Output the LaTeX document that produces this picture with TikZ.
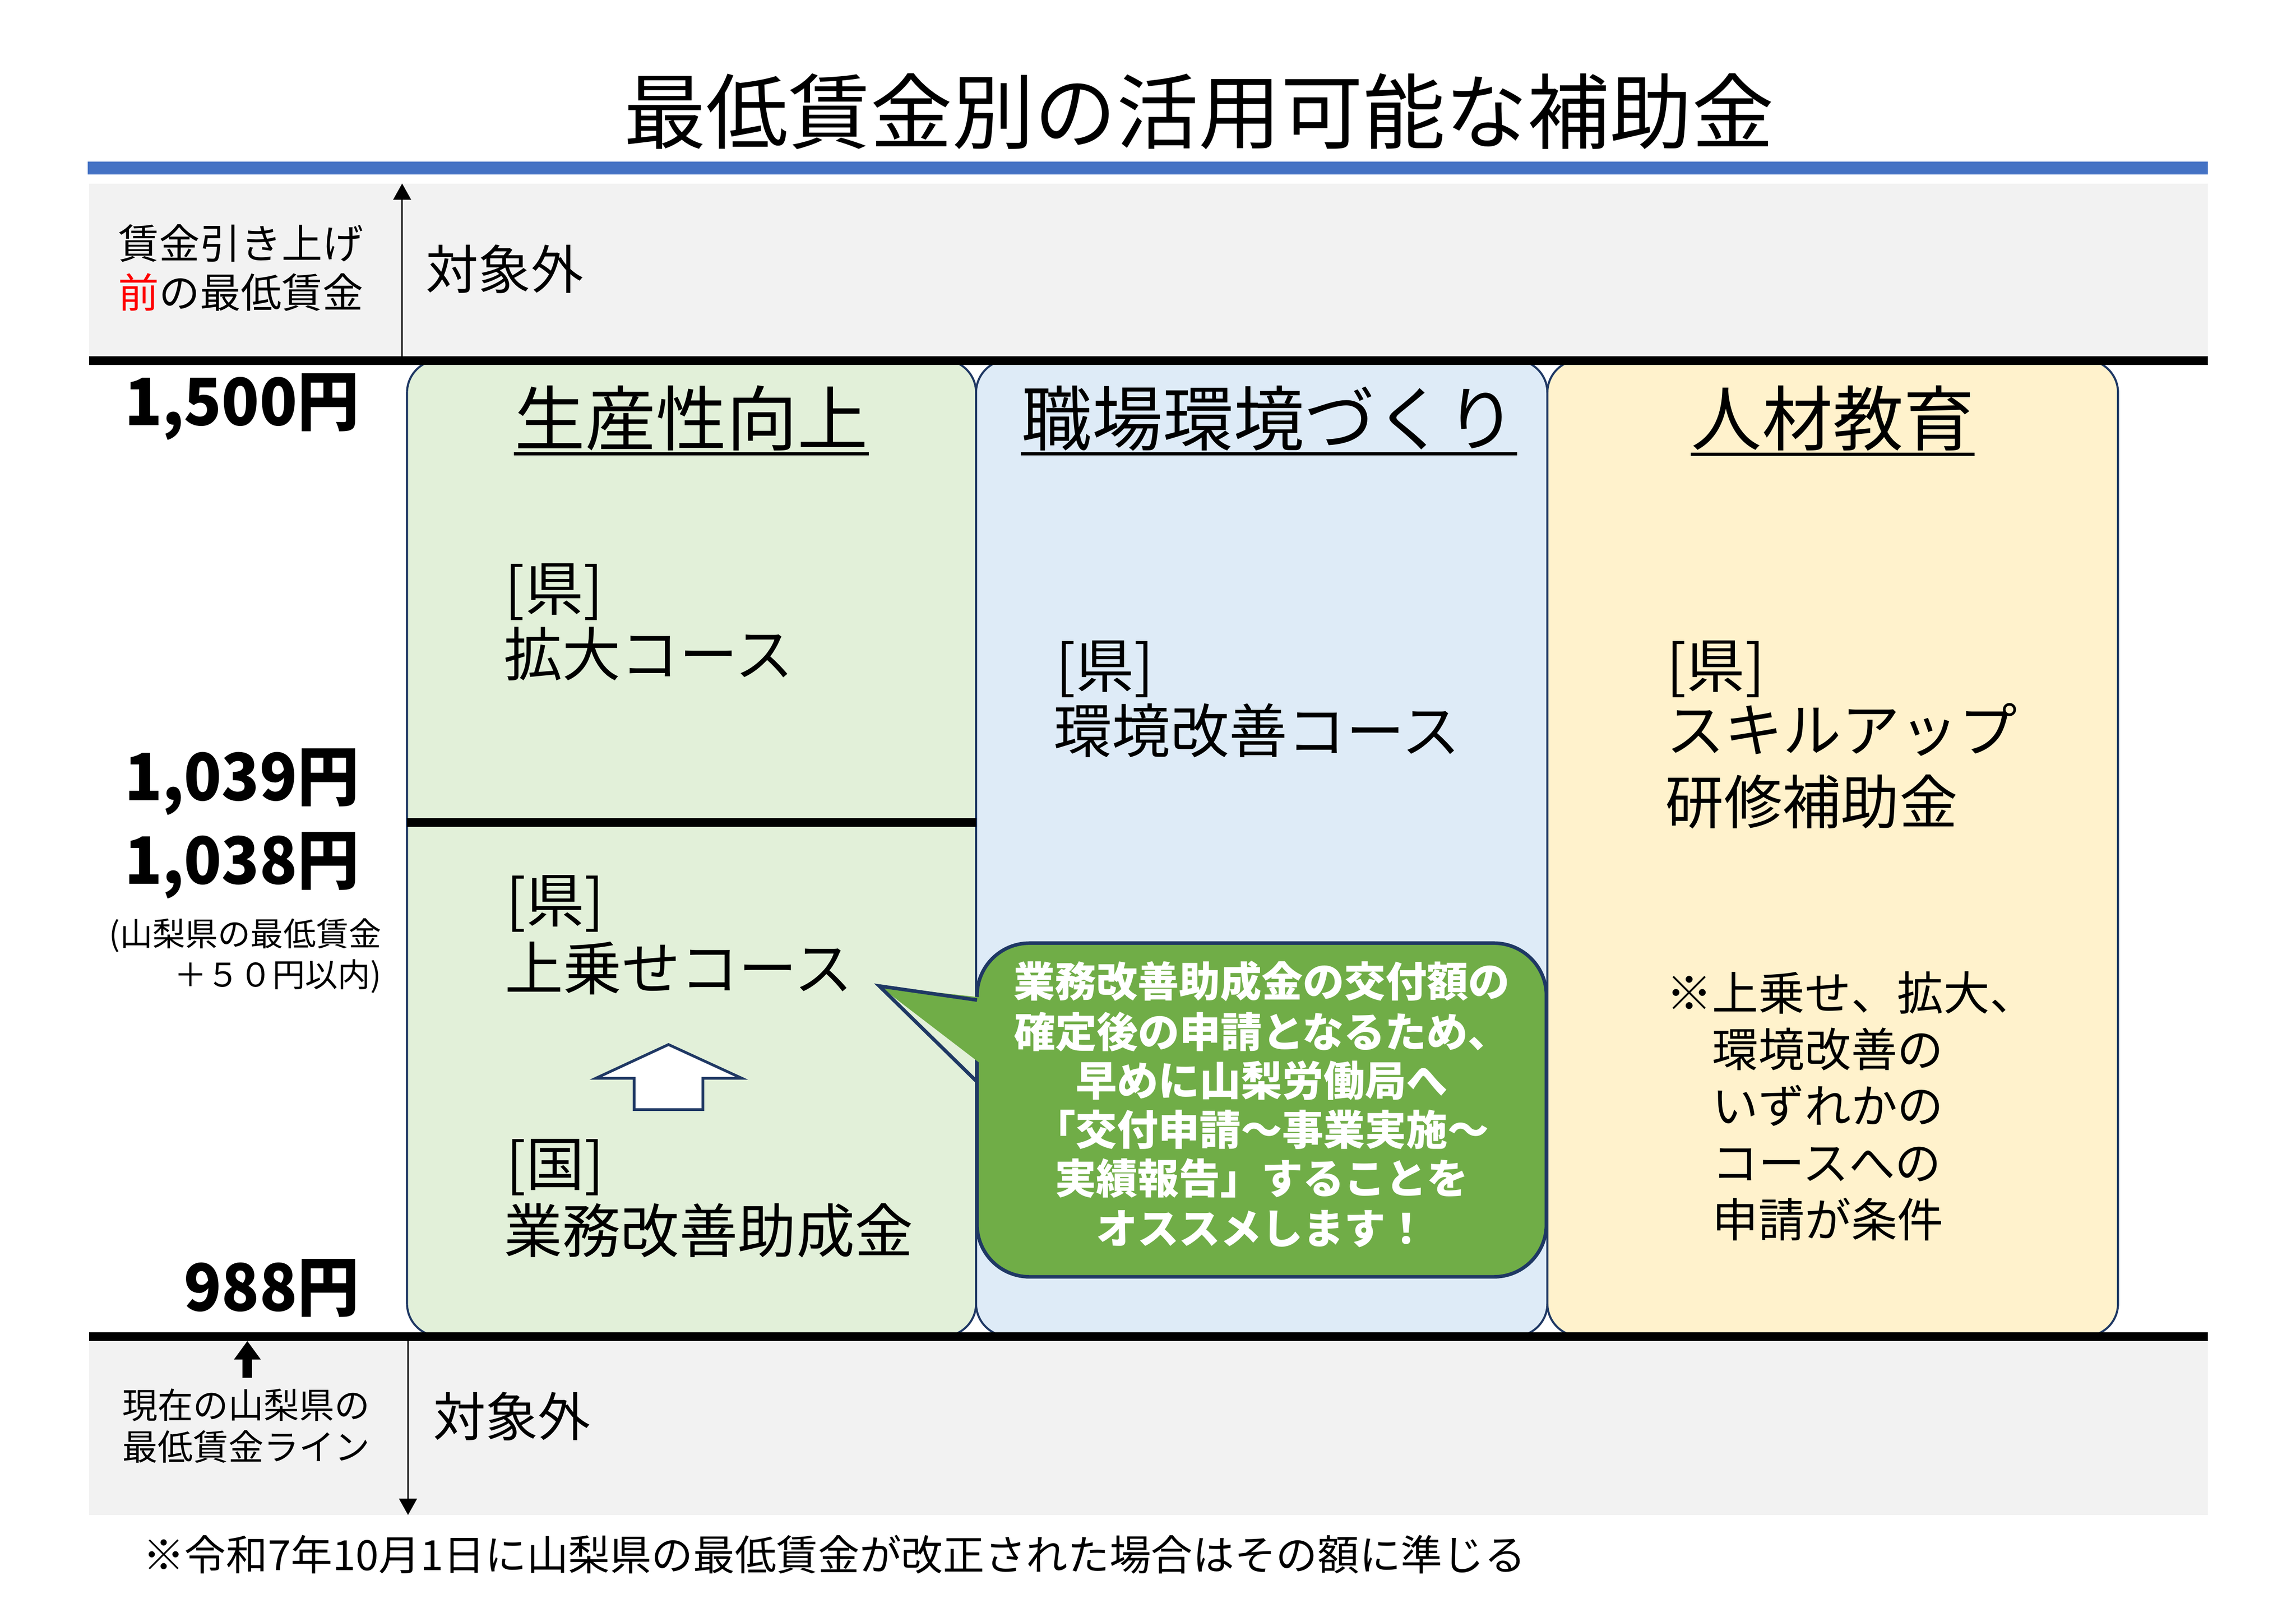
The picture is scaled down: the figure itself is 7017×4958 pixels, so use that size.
\documentclass[tikz,border=0pt]{standalone}
\usepackage{fontspec}
\usepackage{graphicx}
\setmainfont{Noto Sans CJK JP}
\usetikzlibrary{arrows.meta}
\definecolor{barblue}{HTML}{4472C4}
\definecolor{bandgray}{HTML}{F2F2F2}
\definecolor{gbox}{HTML}{E2F0D9}
\definecolor{bbox}{HTML}{DEEBF7}
\definecolor{ybox}{HTML}{FFF2CC}
\definecolor{navy}{HTML}{1F3864}
\definecolor{cgreen}{HTML}{70AD47}
\newcommand{\narrowbold}[1]{\scalebox{0.95}[1]{\bfseries #1}}
\tikzset{
  jt/.style={inner sep=0pt, font=\fontsize{#1pt}{#1pt}\selectfont, text height=0.88*#1pt, text depth=0.12*#1pt},
  boxline/.style={draw=navy, line width=0.75pt, rounded corners=0.4233cm},
  uline/.style={line width=1.2pt, black},
  thinarrow/.style={line width=0.5pt, -{Triangle[length=0.21cm,width=0.23cm]}},
  thickarrow/.style={line width=3.5pt, -{Triangle[length=0.24cm,width=0.33cm]}},
}
\begin{document}
\begin{tikzpicture}[x=0.0042326cm, y=-0.0042326cm]
\useasboundingbox (0,0) rectangle (7017,4958);
\fill[white] (0,0) rectangle (7017,4958);
% bands
\fill[bandgray] (272,561) rectangle (6747,1089);
\fill[bandgray] (272,4099) rectangle (6747,4631);
\fill[barblue] (268,494) rectangle (6747,534);
% boxes
\path[boxline, fill=gbox] (1244,1100) rectangle (2983,4085);
\path[boxline, fill=bbox] (2983,1100) rectangle (4729,4085);
\path[boxline, fill=ybox] (4729,1100) rectangle (6473,4085);
% black lines
\fill[black] (272,1089) rectangle (6747,1116);
\fill[black] (272,4072) rectangle (6747,4099);
\fill[black] (1244,2501) rectangle (2983,2527);
% callout
\path[draw=navy, fill=cgreen, line width=1.3pt, rounded corners=0.677cm] (2986,2883) rectangle (4726,3903);
\coordinate (ctip) at (2687,3014);
\coordinate (cb1) at (2986,3057);
\coordinate (cb2) at (2986,3307);
\fill[cgreen] (ctip) -- ([xshift=10]cb1) -- ([xshift=10]cb2) -- cycle;
\draw[navy, line width=1.3pt, line join=miter] (cb1) -- (ctip) -- (cb2);
% hollow arrow
\draw[navy, fill=white, line width=1pt] (2043,3193) -- (2267,3296) -- (2148,3296) -- (2148,3392) -- (1938,3392) -- (1938,3296) -- (1821,3296) -- cycle;
% arrows
\coordinate (ta0) at (1229,1089); \coordinate (ta1) at (1229,561);
\draw[thinarrow] (ta0) -- (ta1);
\coordinate (ba0) at (1247,4099); \coordinate (ba1) at (1247,4631);
\draw[thinarrow] (ba0) -- (ba1);
\coordinate (ua0) at (756,4212); \coordinate (ua1) at (756,4099);
\draw[thickarrow] (ua0) -- (ua1);
% title
\node[jt=30.2] (title) at (3664,340) {最低賃金別の活用可能な補助金};
% top band
\node[jt=15, anchor=west] (tl1) at (360,743) {賃金引き上げ};
\node[jt=15, anchor=west] (tl2) at (360,893) {\textcolor{red}{前}の最低賃金};
\node[jt=19.3, anchor=west] (out1) at (1300,822) {対象外};
% amounts
\node[jt=24, anchor=base east] (p1500) at (1100,1300) {\narrowbold{1,500円}};
\node[jt=24, anchor=base east] (p1039) at (1100,2447) {\narrowbold{1,039円}};
\node[jt=24, anchor=base east] (p1038) at (1100,2702) {\narrowbold{1,038円}};
\node[jt=12, anchor=east] (pn1) at (1167,2854) {(山梨県の最低賃金};
\node[jt=12, anchor=east] (pn2) at (1167,2978) {＋５０円以内)};
\node[jt=24, anchor=base east] (p988) at (1100,4008) {\narrowbold{988円}};
% headers
\node[jt=26] (h1) at (2113,1278) {生産性向上};
\node[jt=26] (h2) at (3878,1278) {職場環境づくり};
\node[jt=26] (h3) at (5601,1279) {人材教育};
\draw[uline] (h1.south west) -- (h1.south east);
\draw[uline] (h2.south west) -- (h2.south east);
\draw[uline] (h3.south west) -- (h3.south east);
% green
\node[jt=21.5, anchor=west] (g1a) at (1542,1798) {[県]};
\node[jt=21.5, anchor=west] (g1b) at (1538,1998) {拡大コース};
\node[jt=21.5, anchor=west] (g2a) at (1545,2751) {[県]};
\node[jt=21.5, anchor=west] (g2b) at (1541,2958) {上乗せコース};
\node[jt=21.5, anchor=west] (g3a) at (1545,3557) {[国]};
\node[jt=21.5, anchor=west] (g3b) at (1538,3761) {業務改善助成金};
% blue
\node[jt=21.5, anchor=west] (b1a) at (3225,2033) {[県]};
\node[jt=21.5, anchor=west] (b1b) at (3218,2233) {環境改善コース};
% yellow
\node[jt=21.5, anchor=west] (y1a) at (5092,2033) {[県]};
\node[jt=21.5, anchor=west] (y1b) at (5090,2230) {スキルアップ};
\node[jt=21.5, anchor=west] (y1c) at (5088,2450) {研修補助金};
\node[jt=17, anchor=west] (n1) at (5090,3035) {※上乗せ、拡大、};
\node[jt=17, anchor=west] (n2) at (5090,3207) {\hspace*{1em}環境改善の};
\node[jt=17, anchor=west] (n3) at (5090,3379) {\hspace*{1em}いずれかの};
\node[jt=17, anchor=west] (n4) at (5090,3553) {\hspace*{1em}コースへの};
\node[jt=17, anchor=west] (n5) at (5090,3728) {\hspace*{1em}申請が条件};
% callout text
\node[jt=15.2, text=white] (c1) at (3856,2999) {\bfseries 業務改善助成金の交付額の};
\node[jt=15.2, text=white] (c2) at (3856,3154) {\bfseries 確定後の申請となるため、};
\node[jt=15.2, text=white] (c3) at (3856,3302) {\bfseries 早めに山梨労働局へ};
\node[jt=15.2, text=white] (c4) at (3856,3453) {\bfseries 「交付申請～事業実施～};
\node[jt=15.2, text=white] (c5) at (3856,3602) {\bfseries 実績報告」することを};
\node[jt=15.2, text=white] (c6) at (3856,3754) {\bfseries オススメします！};
% bottom band
\node[jt=13, anchor=west] (bl1) at (372,4295) {現在の山梨県の};
\node[jt=13, anchor=west] (bl2) at (372,4423) {最低賃金ライン};
\node[jt=19.3, anchor=west] (out2) at (1322,4330) {対象外};
% footnote
\node[jt=15.3, anchor=west] (foot) at (435,4752) {※令和7年10月1日に山梨県の最低賃金が改正された場合はその額に準じる};
\end{tikzpicture}
\end{document}
